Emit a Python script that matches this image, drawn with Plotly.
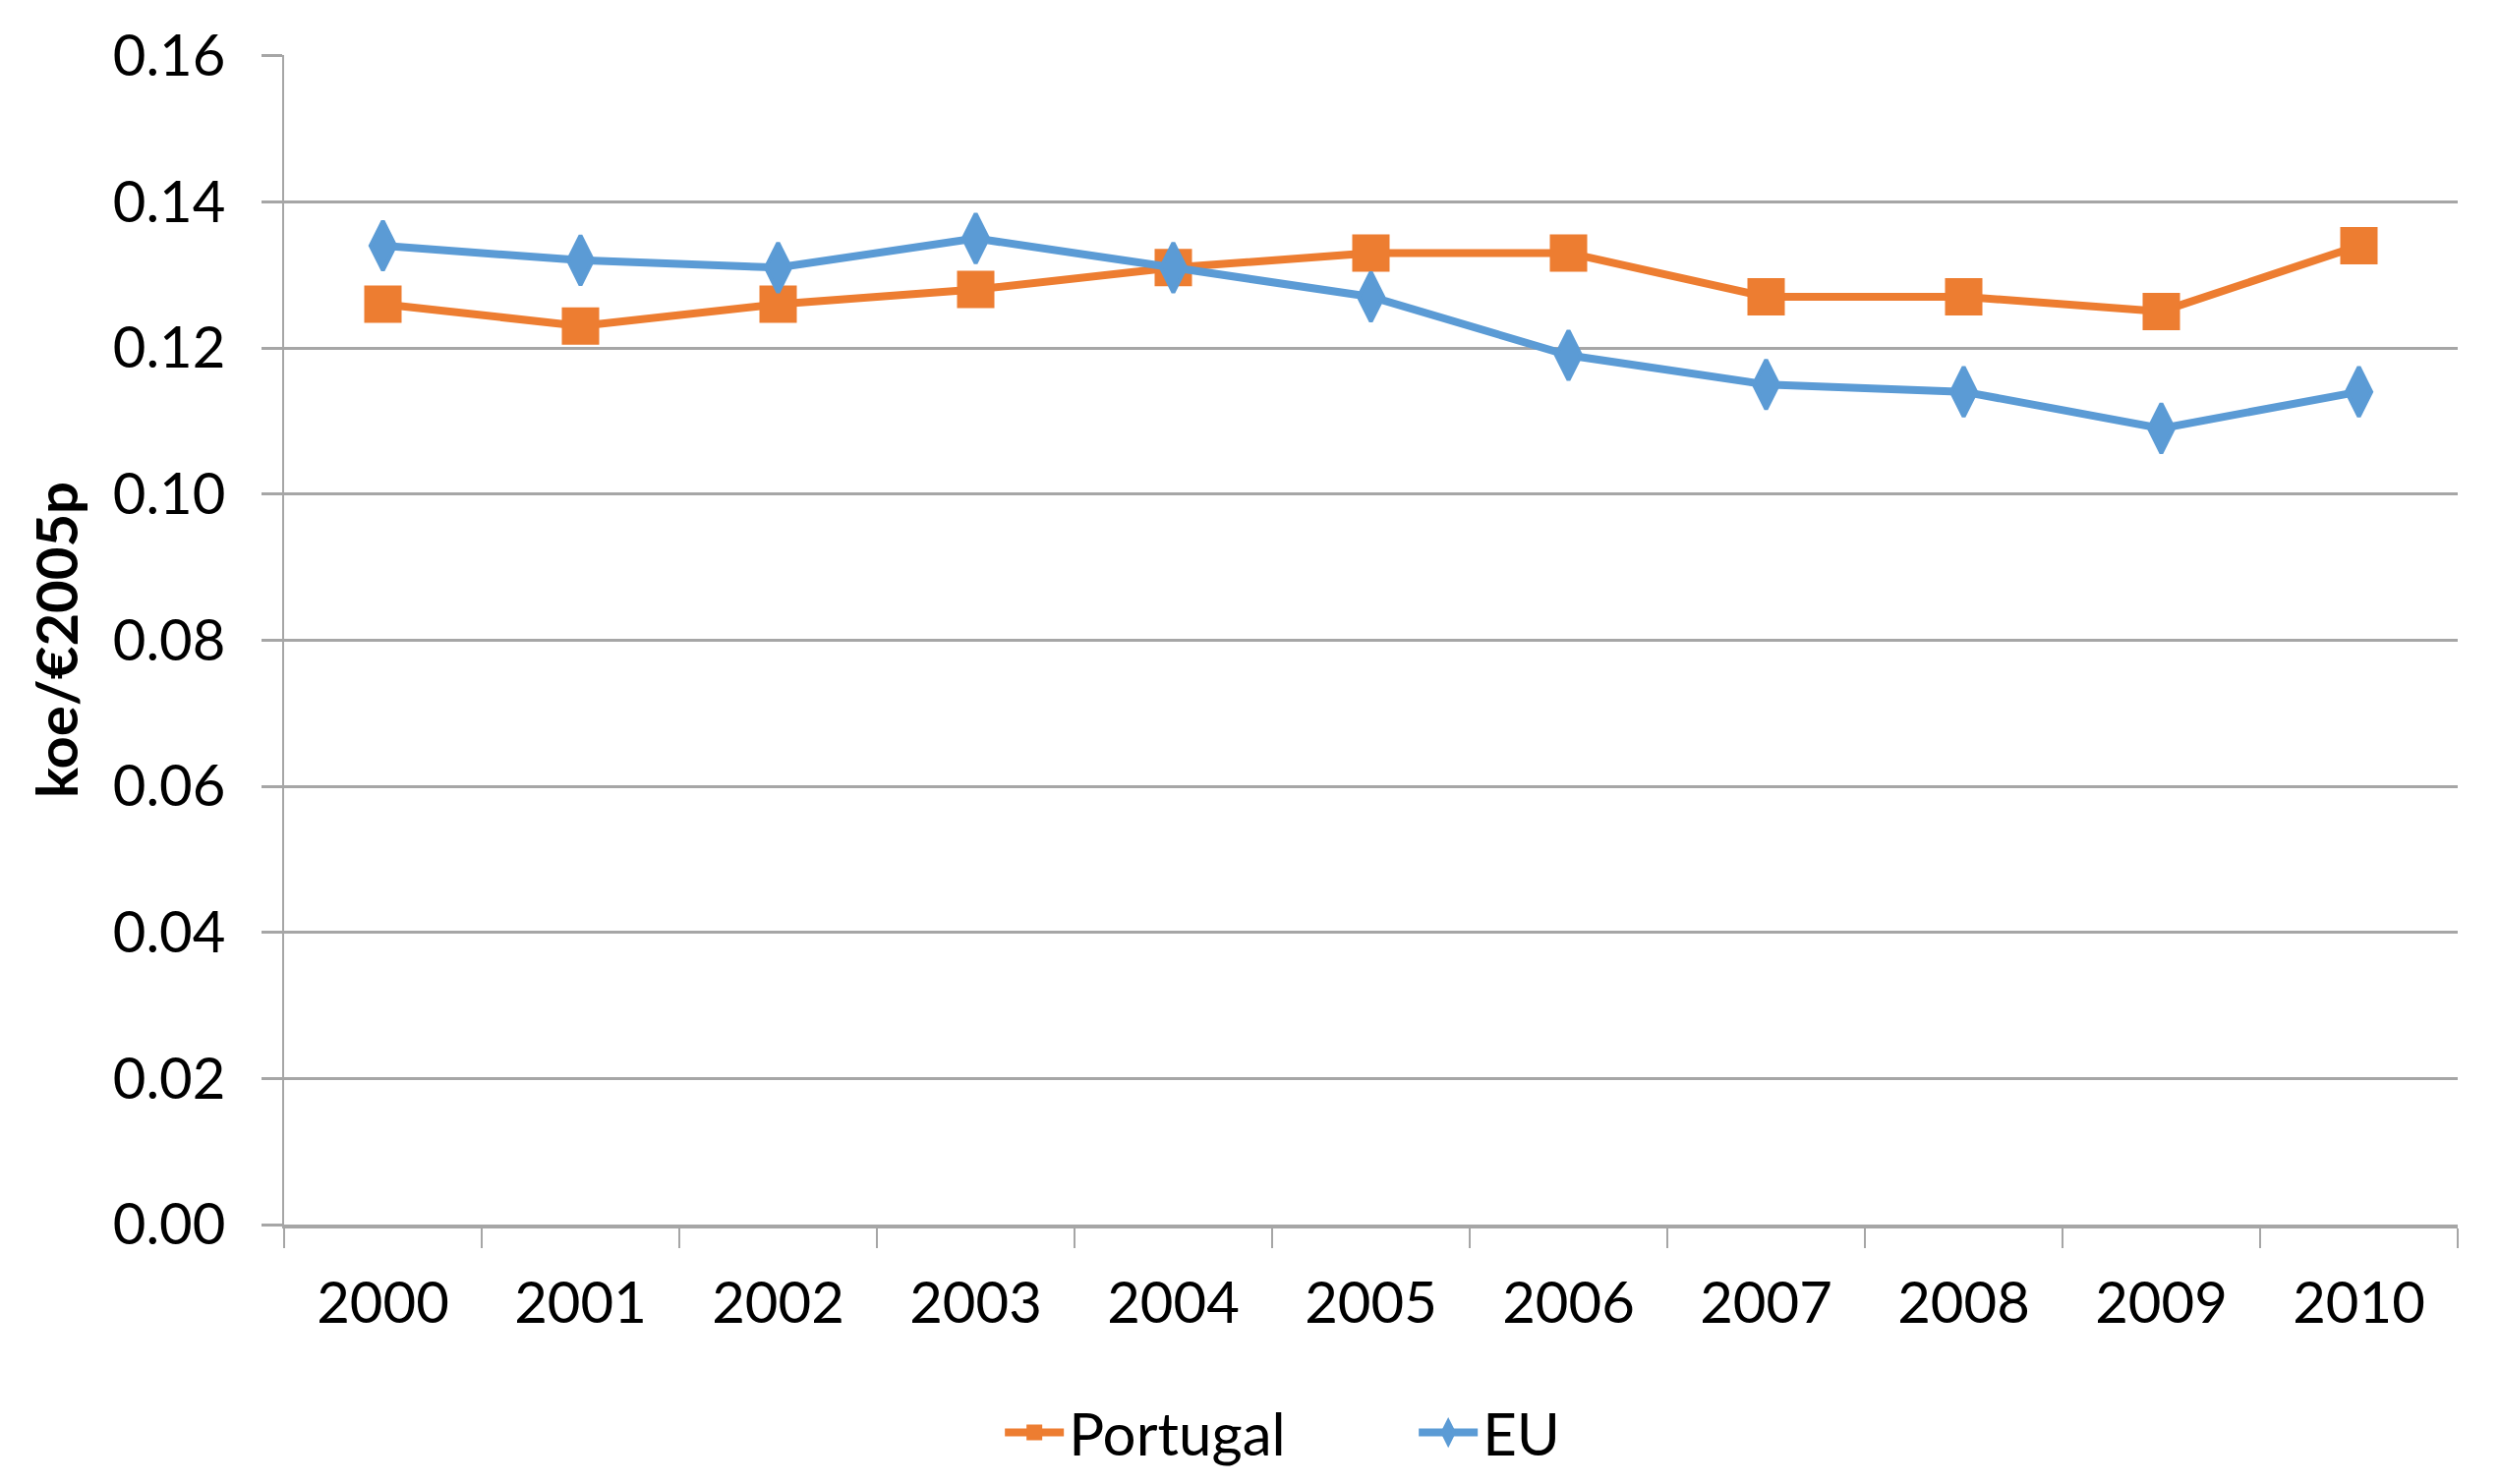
import plotly.graph_objects as go

years = ["2000", "2001", "2002", "2003", "2004", "2005",
         "2006", "2007", "2008", "2009", "2010"]
portugal = [0.126, 0.123, 0.126, 0.128, 0.131, 0.133,
            0.133, 0.127, 0.127, 0.125, 0.134]
eu = [0.134, 0.132, 0.131, 0.135, 0.131, 0.127,
      0.119, 0.115, 0.114, 0.109, 0.114]
y_ticks = [0.00, 0.02, 0.04, 0.06, 0.08, 0.10, 0.12, 0.14, 0.16]

orange = "#ED7D31"
blue = "#5B9BD5"
grid = "#A6A6A6"
font_family = "Lato, Open Sans, sans-serif"

fig = go.Figure()
fig.add_trace(go.Scatter(x=years,
                         y=portugal,
                         name="Portugal",
                         mode="lines+markers",
                         line=dict(color=orange, width=8),
                         marker=dict(symbol="square", size=38, color=orange),
                         ))
fig.add_trace(go.Scatter(x=years,
                         y=eu,
                         name="EU",
                         mode="lines+markers",
                         line=dict(color=blue, width=8),
                         marker=dict(symbol="diamond-tall", size=36, color=blue,
                                     line=dict(color=blue, width=4)),
                         ))

fig.update_xaxes(
    type="category",
    range=[-0.5, 10.5],
    showline=True,
    linecolor=grid,
    linewidth=4,
    ticks="outside",
    tickson="boundaries",
    ticklen=20,
    tickwidth=2,
    tickcolor=grid,
    ticklabelstandoff=26,
    showgrid=False,
    tickfont=dict(size=58, color="black"),
)
fig.update_yaxes(
    range=[0, 0.1601],
    tickvals=y_ticks,
    tickformat=".2f",
    showline=True,
    linecolor=grid,
    linewidth=2,
    ticks="outside",
    ticklen=21,
    tickwidth=3,
    tickcolor=grid,
    ticklabelstandoff=25,
    ticklabeloverflow="allow",
    showgrid=True,
    gridcolor=grid,
    gridwidth=3,
    zeroline=False,
    tickfont=dict(size=58, color="black"),
    title=dict(text="<b>koe/€2005p</b>", font=dict(size=58, color="black"),
               standoff=16),
)

fig.update_layout(
    width=2542,
    height=1510,
    margin=dict(l=281, r=50, t=40, b=272),
    paper_bgcolor="white",
    plot_bgcolor="white",
    font=dict(family=font_family, size=58, color="black"),
    showlegend=True,
    legend=dict(
        orientation="h",
        x=0.397,
        xanchor="left",
        xref="container",
        y=0.04,
        yanchor="middle",
        yref="container",
        font=dict(size=60, color="black"),
        itemwidth=60,
        entrywidth=346,
    ),
)
fig.write_html("out.html")
